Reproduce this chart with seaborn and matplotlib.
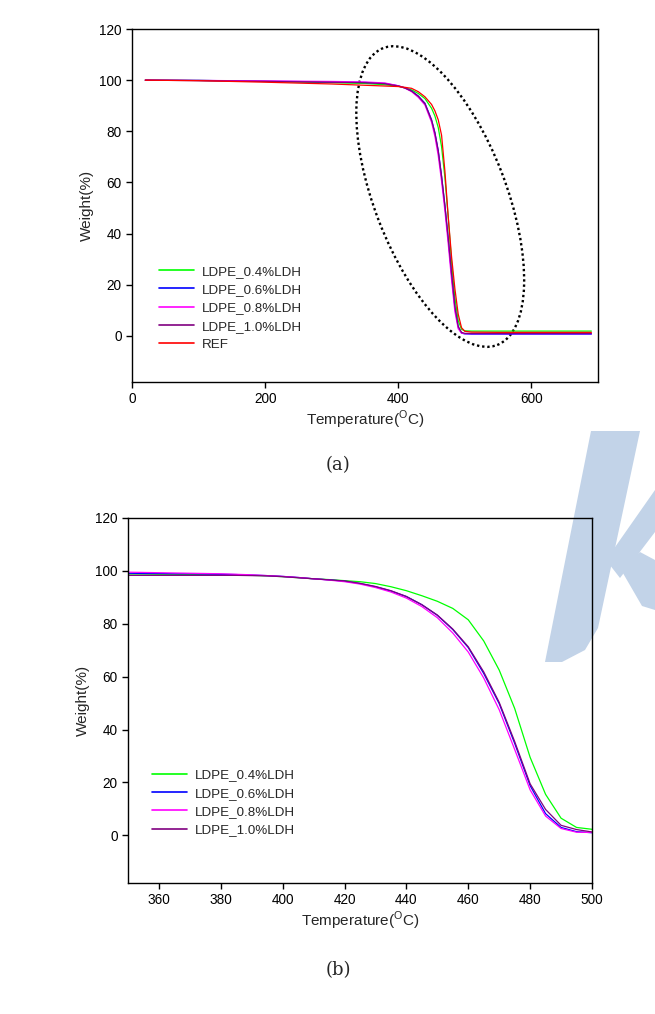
import matplotlib
matplotlib.use('Agg')
import matplotlib.pyplot as plt
import matplotlib.transforms as mtransforms
from matplotlib.patches import Ellipse, Polygon
from matplotlib.lines import Line2D
import seaborn as sns

# ---- data: panel (a), full TGA range ----
temp_a = [20, 100, 200, 300, 350, 380, 400, 410, 420, 430, 440, 450, 455,
          460, 465, 470, 475, 480, 485, 490, 495, 500, 510, 550, 600, 690]
w04_a = [100, 99.9, 99.5, 99.0, 98.7, 98.2, 97.6, 97.0, 96.2, 94.8, 92.8, 89.0, 86.0,
         81.5, 74.0, 62.0, 46.5, 29.0, 15.0, 6.0, 2.6, 2.0, 1.9, 1.9, 1.9, 1.9]
w06_a = [100, 99.9, 99.6, 99.3, 99.1, 98.7, 97.8, 97.0, 95.8, 93.8, 91.0, 84.5, 79.5,
         72.5, 62.5, 51.0, 38.0, 24.0, 11.0, 3.4, 1.1, 0.8, 0.7, 0.7, 0.7, 0.7]
w08_a = [100, 99.9, 99.7, 99.5, 99.3, 98.9, 97.8, 96.9, 95.5, 93.3, 90.3, 83.5, 78.0,
         70.5, 60.5, 49.0, 36.0, 22.0, 9.5, 2.8, 1.1, 0.9, 0.9, 0.9, 0.9, 0.9]
w10_a = [100, 99.8, 99.5, 99.2, 99.0, 98.6, 97.7, 96.9, 95.7, 93.7, 90.8, 84.3, 79.3,
         72.3, 62.3, 51.0, 38.3, 24.5, 11.5, 3.8, 1.4, 1.0, 1.0, 1.0, 1.0, 1.0]
wref_a = [100, 99.8, 99.2, 98.5, 98.0, 97.7, 97.5, 97.2, 96.8, 95.5, 93.5, 90.5, 88.0,
          84.5, 78.5, 64.5, 46.5, 31.0, 18.5, 8.5, 3.2, 1.8, 1.5, 1.4, 1.4, 1.4]

# ---- data: panel (b), zoom on 350-500 C ----
temp_b = [350, 355, 360, 365, 370, 375, 380, 385, 390, 395,
          400, 405, 410, 415, 420, 425, 430, 435, 440, 445,
          450, 455, 460, 465, 470, 475, 480, 485, 490, 495, 500]
w04_b = [98.8, 98.8, 98.7, 98.7, 98.6, 98.5, 98.5, 98.4, 98.3, 98.1,
         97.8, 97.4, 97.0, 96.7, 96.3, 95.9, 95.2, 94.0, 92.5, 90.6,
         88.5, 85.8, 81.5, 73.5, 62.5, 48.0, 29.5, 15.5, 6.5, 3.0, 2.3]
w06_b = [99.1, 99.0, 99.0, 98.9, 98.9, 98.8, 98.7, 98.6, 98.4, 98.2,
         97.9, 97.5, 97.0, 96.6, 96.1, 95.2, 94.0, 92.4, 90.3, 87.2,
         83.2, 77.8, 71.0, 61.2, 49.8, 34.8, 18.8, 8.2, 3.0, 1.4, 1.0]
w08_b = [99.5, 99.4, 99.3, 99.2, 99.1, 99.0, 98.9, 98.7, 98.5, 98.2,
         97.9, 97.5, 97.0, 96.5, 95.9, 95.0, 93.7, 92.0, 89.7, 86.5,
         82.3, 76.5, 69.3, 59.5, 47.5, 32.5, 17.2, 7.3, 2.6, 1.2, 1.1]
w10_b = [98.3, 98.3, 98.3, 98.3, 98.3, 98.3, 98.3, 98.3, 98.2, 98.1,
         97.8, 97.4, 97.0, 96.6, 96.2, 95.3, 94.1, 92.5, 90.3, 87.2,
         83.3, 78.0, 71.3, 61.8, 50.3, 35.5, 19.5, 9.8, 3.8, 2.2, 1.3]

labels = ['LDPE_0.4%LDH', 'LDPE_0.6%LDH', 'LDPE_0.8%LDH', 'LDPE_1.0%LDH', 'REF']
colors = ['#00ff00', '#0000ff', '#ff00ff', '#800080', '#ff0000']

sns.set_style('ticks')
plt.rcParams['font.family'] = ['Liberation Sans', 'DejaVu Sans']
plt.rcParams['mathtext.fontset'] = 'custom'
plt.rcParams['mathtext.rm'] = 'Liberation Sans'
plt.rcParams['xtick.direction'] = 'out'
plt.rcParams['ytick.direction'] = 'out'

fig = plt.figure(figsize=(6.55, 10.14), dpi=100)
ax1 = fig.add_axes([0.2015, 0.6233, 0.7115, 0.3481])
ax2 = fig.add_axes([0.1954, 0.1292, 0.7084, 0.3600])
ax2.set_facecolor('none')

# watermark (scan artefact) behind panel (b)
def px(x, y):
    return (x / 655, 1 - y / 1014)

wm = '#c2d3e8'
for shape in [[(591, 431), (640, 431), (598, 628), (585, 650), (562, 662), (545, 662)],
              [(606, 560), (655, 490), (655, 532), (620, 578)],
              [(620, 568), (640, 552), (655, 560), (655, 610), (642, 606)]]:
    fig.patches.append(Polygon([px(*p) for p in shape], closed=True, facecolor=wm,
                               edgecolor='none', transform=fig.transFigure, zorder=-1))

# panel (a)
series_a = [w04_a, w06_a, w08_a, w10_a, wref_a]
for vals, col in zip(series_a, colors):
    sns.lineplot(x=temp_a, y=vals, color=col, linewidth=0.9, ax=ax1)
ax1.set_xlim(0, 700)
ax1.set_ylim(-18, 120)
ax1.set_xticks([0, 200, 400, 600])
ax1.set_yticks([0, 20, 40, 60, 80, 100, 120])

# dotted ellipse highlighting the decomposition step
ell_tr = fig.dpi_scale_trans + mtransforms.ScaledTranslation(463, 54.5, ax1.transData)
ax1.add_patch(Ellipse((0, 0), 1.32, 3.18, angle=21, fill=False, edgecolor='black',
                      linestyle=(0, (1, 1.2)), linewidth=1.7, transform=ell_tr))

# panel (b)
series_b = [w04_b, w06_b, w08_b, w10_b]
for vals, col in zip(series_b, colors[:4]):
    sns.lineplot(x=temp_b, y=vals, color=col, linewidth=0.9, ax=ax2)
ax2.set_xlim(350, 500)
ax2.set_ylim(-18, 120)
ax2.set_xticks([360, 380, 400, 420, 440, 460, 480, 500])
ax2.set_yticks([0, 20, 40, 60, 80, 100, 120])

legend_pos = {ax1: (0.058, 0.33), ax2: (0.052, 0.312)}
for ax, n in ((ax1, 5), (ax2, 4)):
    for s in ax.spines.values():
        s.set_linewidth(1.0)
        s.set_color('black')
    ax.tick_params(labelsize=9.8, length=4, width=1.0, colors='black')
    ax.set_xlabel('Temperature($^{\\mathrm{O}}$C)', fontsize=11, labelpad=2)
    ax.set_ylabel('Weight(%)', fontsize=11, labelpad=4)
    handles = [Line2D([], [], color=c, linewidth=1.2) for c in colors[:n]]
    ax.legend(handles, labels[:n], loc='upper left', bbox_to_anchor=legend_pos[ax],
              frameon=False, fontsize=9.6, handlelength=2.6, handletextpad=0.6,
              labelspacing=0.45, borderaxespad=0, borderpad=0)

fig.text(0.516, 0.541, '(a)', fontsize=13, family='DejaVu Serif', ha='center', va='center')
fig.text(0.516, 0.043, '(b)', fontsize=13, family='DejaVu Serif', ha='center', va='center')

fig.savefig('out.png', dpi=100)
